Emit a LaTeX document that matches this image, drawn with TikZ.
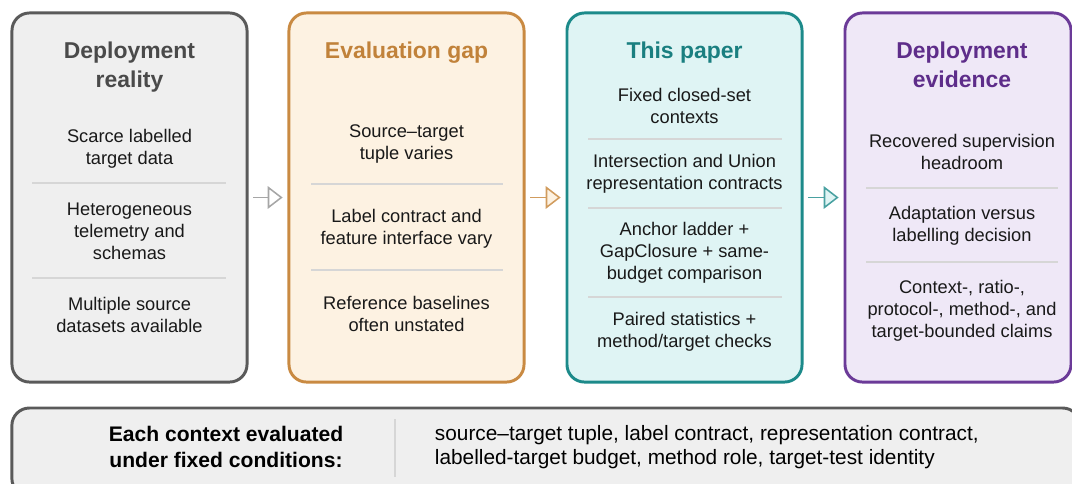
\documentclass[tikz,border=0pt]{standalone}
\usepackage{fontspec}
\setmainfont{Liberation Sans}
\usetikzlibrary{arrows.meta}
\definecolor{grayline}{HTML}{5A5A5A}
\definecolor{grayfill}{HTML}{EFEFEF}
\definecolor{graytext}{HTML}{4A4A4A}
\definecolor{orangeline}{HTML}{C98A42}
\definecolor{orangefill}{HTML}{FDF2E2}
\definecolor{orangetext}{HTML}{C1823A}
\definecolor{tealline}{HTML}{1C8A8A}
\definecolor{tealfill}{HTML}{DFF4F4}
\definecolor{tealtext}{HTML}{1A7F80}
\definecolor{purpleline}{HTML}{6B3A98}
\definecolor{purplefill}{HTML}{EFE8F7}
\definecolor{purpletext}{HTML}{5E2D8A}
\definecolor{sepline}{HTML}{D6D6D6}
\tikzset{panel/.style={draw, rounded corners=12.5pt, line width=2.1pt, inner sep=0pt, outer sep=0pt}}
\tikzset{head/.style={align=center, font=\fontsize{16.3}{20.3}\selectfont\bfseries}}
\tikzset{item/.style={align=center, text=black!90, font=\fontsize{13}{15.6}\selectfont}}
\tikzset{sep/.style={draw=sepline, line width=0.8pt}}
\tikzset{flow/.style={line width=1.1pt, shorten <=4.5pt, shorten >=4.5pt}}

\begin{document}
\begin{tikzpicture}[x=0.025cm, y=-0.025cm]
    \useasboundingbox (0,0) rectangle (1072,483);
    % panels
    \node[panel, draw=grayline, fill=grayfill, minimum width=5.875cm, minimum height=9.225cm] (real) at (129.5,197.5) {};
    \node[panel, draw=orangeline, fill=orangefill, minimum width=5.875cm, minimum height=9.225cm] (gap) at (406.5,197.5) {};
    \node[panel, draw=tealline, fill=tealfill, minimum width=5.875cm, minimum height=9.225cm] (paper) at (684.5,197.5) {};
    \node[panel, draw=purpleline, fill=purplefill, minimum width=5.65cm, minimum height=9.225cm] (evid) at (958,197.5) {};
    \node[panel, draw=grayline, fill=grayfill, minimum width=26.7cm, minimum height=2.2cm] (cond) at (546,452) {};
    % arrows
    \draw[flow, draw=gray!70, -{Triangle[length=10.6pt, width=16pt, line width=1.1pt, fill=white]}] (real) -- (gap);
    \draw[flow, draw=orangeline!85, -{Triangle[length=10.6pt, width=16pt, line width=1.1pt, fill=orangefill]}] (gap) -- (paper);
    \draw[flow, draw=tealline!80, -{Triangle[length=10.6pt, width=16pt, line width=1.1pt, fill=tealfill]}] (paper) -- (evid);
    % deployment reality
    \node[head, text=graytext] (realT) at (129.5,67) {Deployment\\reality};
    \node[item] (real1) at (129.5,149) {Scarce labelled\\target data};
    \draw[sep] (32,183) -- (226,183);
    \node[item] (real2) at (129.5,231) {Heterogeneous\\telemetry and\\schemas};
    \draw[sep] (32,278) -- (226,278);
    \node[item] (real3) at (129.5,315) {Multiple source\\datasets available};
    % evaluation gap
    \node[head, text=orangetext] (gapT) at (406.5,53) {Evaluation gap};
    \node[item] (gap1) at (406.5,144) {Source\textendash target\\tuple varies};
    \draw[sep] (311,184) -- (503,184);
    \node[item] (gap2) at (406.5,229) {Label contract and\\feature interface vary};
    \draw[sep] (311,270) -- (503,270);
    \node[item] (gap3) at (406.5,313.5) {Reference baselines\\often unstated};
    % this paper
    \node[head, text=tealtext] (paperT) at (684.5,53) {This paper};
    \node[item] (paper1) at (684.5,106) {Fixed closed-set\\contexts};
    \draw[sep] (588,139) -- (782,139);
    \node[item] (paper2) at (684.5,174) {Intersection and Union\\representation contracts};
    \draw[sep] (588,208) -- (782,208);
    \node[item] (paper3) at (684.5,252.5) {Anchor ladder +\\GapClosure + same-\\budget comparison};
    \draw[sep] (588,297) -- (782,297);
    \node[item] (paper4) at (684.5,331.5) {Paired statistics +\\method/target checks};
    % deployment evidence
    \node[head, text=purpletext] (evidT) at (962,65) {Deployment\\evidence};
    \node[item] (evid1) at (962,151.5) {Recovered supervision\\headroom};
    \draw[sep] (866,188) -- (1058,188);
    \node[item] (evid2) at (962,226) {Adaptation versus\\labelling decision};
    \draw[sep] (866,262) -- (1058,262);
    \node[item] (evid3) at (962,310.5) {Context-, ratio-,\\protocol-, method-, and\\target-bounded claims};
    % fixed conditions
    \node[align=center, font=\fontsize{15}{18.6}\selectfont\bfseries] (condT) at (226,447) {Each context evaluated\\under fixed conditions:};
    \draw[sep, line width=1pt] (395,419) -- (395,477);
    \node[anchor=west, align=left, font=\fontsize{14.8}{17.2}\selectfont] (condL) at (430,447) {source\textendash target tuple, label contract, representation contract,\\labelled-target budget, method role, target-test identity};
\end{tikzpicture}
\end{document}
